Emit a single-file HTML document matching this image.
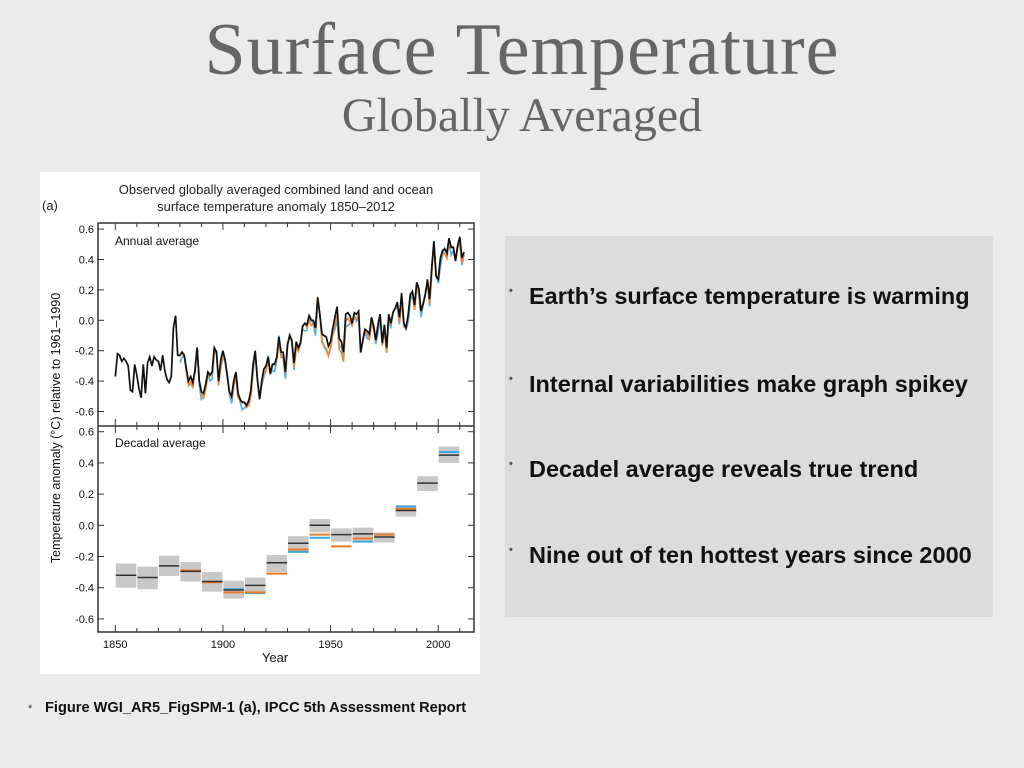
<!DOCTYPE html>
<html><head><meta charset="utf-8"><style>
html,body{margin:0;padding:0}
body{width:1024px;height:768px;background:#ebebeb;position:relative;overflow:hidden;font-family:"Liberation Sans",sans-serif}
.t1{position:absolute;left:0;width:1044px;text-align:center;top:8px;font-family:"Liberation Serif",serif;font-size:74px;color:#666;letter-spacing:1px}
.t2{position:absolute;left:0;width:1044px;text-align:center;top:88px;font-family:"Liberation Serif",serif;font-size:48px;color:#666}
.panel{position:absolute;left:505px;top:236px;width:488px;height:381px;background:#dcdcdc}
.b{position:absolute;left:24px;font-weight:bold;font-size:23.5px;color:#111;white-space:nowrap}
.b:before{content:"•";position:absolute;left:-20px;top:2px;font-size:11px;color:#555}
.foot{position:absolute;left:45px;top:700px;font-weight:bold;font-size:14.6px;color:#111;white-space:nowrap}
.star{position:absolute;left:28px;top:703px;font-size:11px;color:#333}
</style></head><body>
<div class="t1">Surface Temperature</div>
<div class="t2">Globally Averaged</div>
<svg style="position:absolute;left:0;top:0" width="1024" height="768" id="s">
<rect x="40" y="172" width="440" height="502" fill="#fff"/>
<text x="42" y="210" font-size="13" fill="#222">(a)</text>
<text x="276" y="194" font-size="13" text-anchor="middle" fill="#222">Observed globally averaged combined land and ocean</text>
<text x="276" y="211" font-size="13" text-anchor="middle" fill="#222">surface temperature anomaly 1850–2012</text>
<text x="115" y="245" font-size="12" fill="#111">Annual average</text>
<text x="115" y="447" font-size="12" fill="#111">Decadal average</text>
<text x="275" y="662" font-size="13" text-anchor="middle" fill="#111">Year</text>
<text transform="translate(60,428) rotate(-90)" font-size="12.5" text-anchor="middle" fill="#111">Temperature anomaly (°C) relative to 1961–1990</text>
<g id="g"></g>
<rect x="98" y="223" width="376" height="409" fill="none" stroke="#333" stroke-width="1.5"/>
<line x1="98" y1="426" x2="474" y2="426" stroke="#333" stroke-width="1.5"/>
</svg>
<div class="panel">
<div class="b" style="top:47px">Earth’s surface temperature is warming</div>
<div class="b" style="top:135px">Internal variabilities make graph spikey</div>
<div class="b" style="top:220px">Decadel average reveals true trend</div>
<div class="b" style="top:306px">Nine out of ten hottest years since 2000</div>
</div>
<div class="star">*</div>
<div class="foot">Figure WGI_AR5_FigSPM-1 (a), IPCC 5th Assessment Report</div>
<script>
var d=[-0.37,-0.22,-0.23,-0.27,-0.25,-0.27,-0.30,-0.46,-0.47,-0.29,-0.36,-0.45,-0.51,-0.29,-0.48,-0.28,-0.24,-0.30,-0.24,-0.26,-0.27,-0.33,-0.23,-0.33,-0.39,-0.41,-0.37,-0.05,0.03,-0.23,-0.23,-0.21,-0.23,-0.32,-0.40,-0.37,-0.41,-0.33,-0.18,-0.40,-0.47,-0.48,-0.42,-0.34,-0.36,-0.34,-0.18,-0.21,-0.40,-0.26,-0.20,-0.26,-0.37,-0.47,-0.50,-0.40,-0.34,-0.48,-0.52,-0.54,-0.54,-0.56,-0.53,-0.46,-0.29,-0.20,-0.39,-0.52,-0.40,-0.32,-0.30,-0.24,-0.35,-0.29,-0.29,-0.24,-0.11,-0.21,-0.21,-0.34,-0.16,-0.10,-0.13,-0.28,-0.14,-0.18,-0.15,-0.04,-0.02,-0.03,0.03,0.00,0.00,-0.05,0.15,0.04,-0.09,-0.10,-0.11,-0.17,-0.14,-0.05,0.02,0.09,-0.12,-0.14,-0.21,0.04,0.05,0.03,-0.02,0.05,0.04,0.06,-0.21,-0.13,-0.06,-0.07,-0.09,0.02,-0.04,-0.13,-0.03,0.04,-0.15,-0.03,-0.18,0.04,-0.02,0.05,0.08,0.12,0.02,0.18,-0.02,-0.05,0.03,0.17,0.19,0.10,0.25,0.21,0.06,0.11,0.17,0.27,0.14,0.35,0.52,0.29,0.27,0.41,0.46,0.47,0.44,0.54,0.48,0.48,0.39,0.49,0.55,0.41,0.45];
function X(y){return 115.3+(y-1850)*2.153}
function YA(v){return 320.3-v*152}
function YD(v){return 525.3-v*156}
var h='';
for(var v=-0.6;v<=0.61;v+=0.2){var a=YA(v),b=YD(v),l=(Math.abs(v)<1e-9?'0.0':v.toFixed(1));
h+='<line x1="98" x2="104" y1="'+a+'" y2="'+a+'" stroke="#333"/><line x1="468" x2="474" y1="'+a+'" y2="'+a+'" stroke="#333"/>';
h+='<line x1="98" x2="104" y1="'+b+'" y2="'+b+'" stroke="#333"/><line x1="468" x2="474" y1="'+b+'" y2="'+b+'" stroke="#333"/>';
h+='<text x="94" y="'+(a+4)+'" font-size="11" text-anchor="end" fill="#111">'+l+'</text>';
h+='<text x="94" y="'+(b+4)+'" font-size="11" text-anchor="end" fill="#111">'+l+'</text>';}
for(var y=1850;y<=2010;y+=10){var x=X(y),L=(y%50==0)?7:4;
h+='<line x1="'+x+'" x2="'+x+'" y1="223" y2="'+(223+L)+'" stroke="#333"/><line x1="'+x+'" x2="'+x+'" y1="'+(426-L)+'" y2="'+(426+L)+'" stroke="#333"/><line x1="'+x+'" x2="'+x+'" y1="'+(632-L)+'" y2="632" stroke="#333"/>';
if(y%50==0)h+='<text x="'+x+'" y="648" font-size="11" text-anchor="middle" fill="#111">'+y+'</text>';}
function path(off,start,col){var p='';for(var i=start;i<d.length;i++){var v=d[i]+off(i);p+=(i==start?'M':'L')+X(1850+i).toFixed(1)+','+YA(v).toFixed(1);}return '<path d="'+p+'" fill="none" stroke="'+col+'" stroke-width="1.7"/>';}
h+=path(function(i){return -0.02-0.03*Math.sin(i*1.3)-(i>95&&i<110?0.04:0)},30,'#4eb3e6');
h+=path(function(i){return -0.015-0.02*Math.cos(i*0.9)-(i>95&&i<110?0.04:0)},30,'#ef8a3a');
h+=path(function(i){return 0},0,'#111');
var D=[[-0.32,null,null,-0.40,-0.245],[-0.335,null,null,-0.41,-0.265],[-0.26,null,null,-0.325,-0.195],[-0.295,-0.29,null,-0.36,-0.235],[-0.36,-0.365,null,-0.425,-0.30],[-0.415,-0.43,-0.41,-0.47,-0.355],[-0.385,-0.43,-0.435,-0.435,-0.335],[-0.24,-0.31,null,-0.30,-0.19],[-0.115,-0.155,-0.17,-0.175,-0.07],[0,-0.06,-0.08,-0.045,0.04],[-0.06,-0.135,null,-0.105,-0.02],[-0.055,-0.085,-0.105,-0.10,-0.015],[-0.075,-0.06,null,-0.11,-0.045],[0.095,0.105,0.12,0.055,0.13],[0.27,null,null,0.22,0.315],[0.45,null,0.47,0.40,0.505]];
D.forEach(function(r,k){var x0=X(1850+10*k)+0.5,x1=X(1860+10*k)-0.5;
h+='<rect x="'+x0+'" y="'+YD(r[4])+'" width="'+(x1-x0)+'" height="'+(YD(r[3])-YD(r[4]))+'" fill="#c8c8c8"/>';
if(r[2]!==null)h+='<line x1="'+x0+'" x2="'+x1+'" y1="'+YD(r[2])+'" y2="'+YD(r[2])+'" stroke="#3aa8e6" stroke-width="2"/>';
if(r[1]!==null)h+='<line x1="'+x0+'" x2="'+x1+'" y1="'+YD(r[1])+'" y2="'+YD(r[1])+'" stroke="#ee7a25" stroke-width="2"/>';
h+='<line x1="'+x0+'" x2="'+x1+'" y1="'+YD(r[0])+'" y2="'+YD(r[0])+'" stroke="#333" stroke-width="1.5"/>';});
document.getElementById('g').innerHTML=h;
</script>
</body></html>
